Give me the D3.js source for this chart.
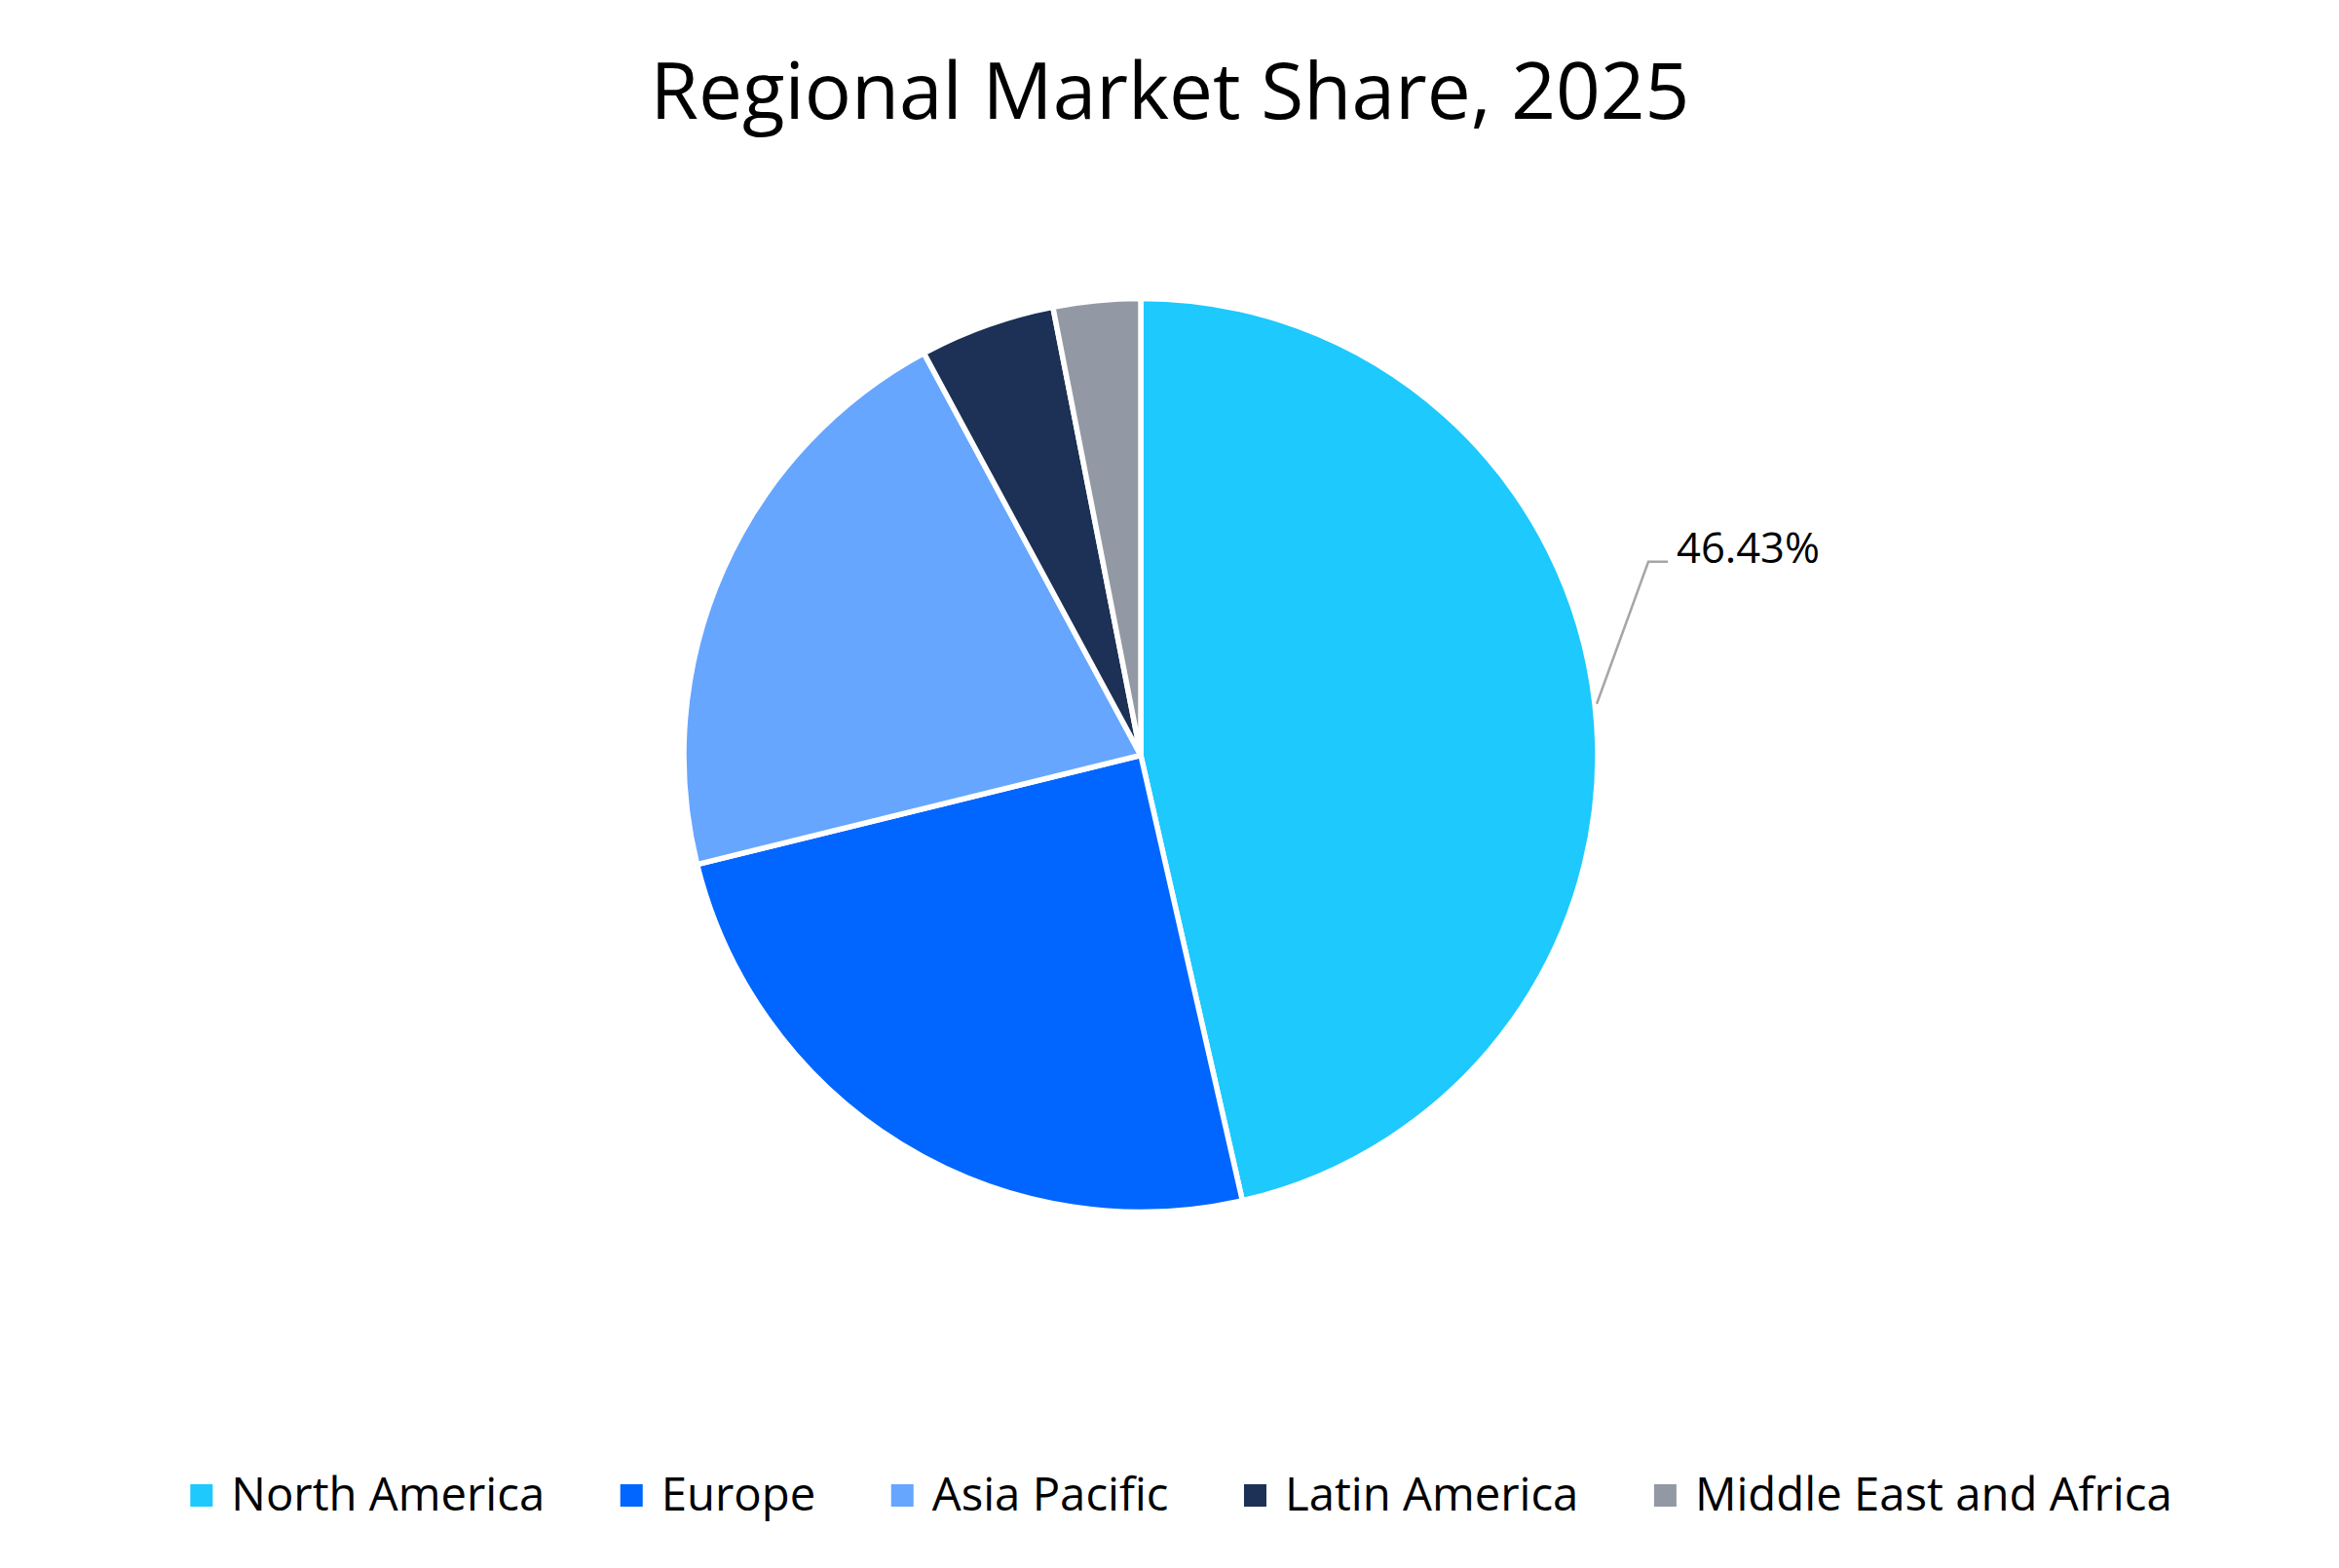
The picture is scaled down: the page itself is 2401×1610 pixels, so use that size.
<!DOCTYPE html>
<html>
<head>
<meta charset="utf-8">
<script src="https://cdn.jsdelivr.net/npm/d3@7/dist/d3.min.js"></script>
<style>
  html, body { margin: 0; padding: 0; background: #ffffff; }
  svg { display: block; }
  text { font-family: "Open Sans", "Noto Sans", sans-serif; fill: #000000; }
</style>
</head>
<body>
<svg id="chart" width="2401" height="1610"></svg>
<script>
// ---- Data ----
const categories = ["North America", "Europe", "Asia Pacific", "Latin America", "Middle East and Africa"];
const shares = [46.43, 24.73, 20.97, 4.79, 3.08];
const colors = ["#1DC9FD", "#0066FF", "#66A6FF", "#1D3055", "#9399A4"];
const titleText = "Regional Market Share, 2025";
const labelledIndex = 0; // only North America carries a data label

// ---- Layout ----
const W = 2401, H = 1610;
const cx = 1171, cy = 775.5, R = 469;

const svg = d3.select("#chart");
svg.append("rect").attr("width", W).attr("height", H).attr("fill", "#ffffff");

// helper: size a text so its rendered width matches a target width
function fitText(sel, targetWidth, baseSize) {
  sel.style("font-size", baseSize + "px");
  const w = sel.node().getComputedTextLength();
  const size = baseSize * targetWidth / w;
  sel.style("font-size", size + "px");
  return size;
}

// Title
const title = svg.append("text")
  .attr("x", 1201).attr("y", 122)
  .attr("text-anchor", "middle")
  .text(titleText);
fitText(title, 1067, 80);

// Pie
const data = categories.map((c, i) => ({ name: c, value: shares[i], color: colors[i], i }));
const pie = d3.pie().value(d => d.value).sort(null);
const arcs = pie(data);
const arc = d3.arc().innerRadius(0).outerRadius(R);

const g = svg.append("g").attr("transform", `translate(${cx},${cy})`);
g.selectAll("path.slice")
  .data(arcs)
  .join("path")
  .attr("class", "slice")
  .attr("d", arc)
  .attr("fill", d => d.data.color)
  .attr("stroke", "#ffffff")
  .attr("stroke-width", 5.5)
  .attr("stroke-linejoin", "round");

// Data label with leader line
const a = arcs[labelledIndex];
const mid = (a.startAngle + a.endAngle) / 2;
const p0 = [Math.sin(mid) * (R + 2), -Math.cos(mid) * (R + 2)];
const p1 = [p0[0] + 53, p0[1] - 146];
const p2 = [p1[0] + 20, p1[1]];
g.append("polyline")
  .attr("points", [p0, p1, p2].map(p => p.join(",")).join(" "))
  .attr("fill", "none")
  .attr("stroke", "#A6A6A6")
  .attr("stroke-width", 2.5);
const lbl = g.append("text")
  .attr("x", p2[0] + 9)
  .attr("y", p2[1] + 1)
  .text(d3.format(".2f")(a.data.value) + "%");
fitText(lbl, 147, 44);

// Legend
const sq = 23, gapText = 19, gapItem = 77.5;
const legendBaseline = 1551, legendCenterX = 1212.5;
const leg = svg.append("g");
const items = leg.selectAll("g.item").data(data).join("g").attr("class", "item");
const texts = items.append("text").attr("y", legendBaseline).text(d => d.name);
// font size fitted on first item, applied to all
const fs = fitText(d3.select(texts.nodes()[0]), 322, 48);
texts.style("font-size", fs + "px");
const widths = texts.nodes().map(n => n.getComputedTextLength());
const total = d3.sum(widths) + data.length * (sq + gapText) + (data.length - 1) * gapItem;
let x = legendCenterX - total / 2;
items.each(function(d, i) {
  const it = d3.select(this);
  it.insert("rect", "text")
    .attr("x", x).attr("y", 1524)
    .attr("width", sq).attr("height", sq)
    .attr("fill", d.color);
  it.select("text").attr("x", x + sq + gapText);
  x += sq + gapText + widths[i] + gapItem;
});
</script>
</body>
</html>
